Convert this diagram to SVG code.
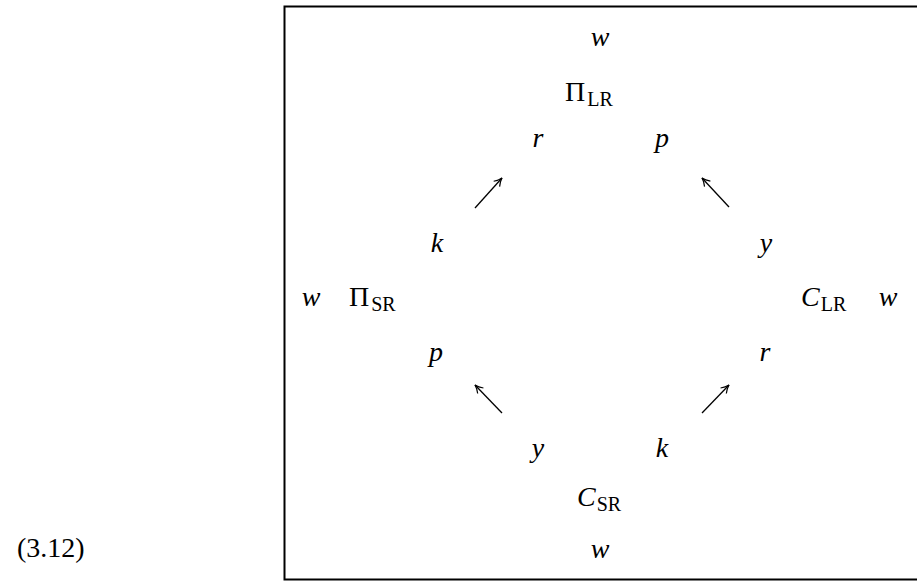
<svg xmlns="http://www.w3.org/2000/svg" width="917" height="587" viewBox="0 0 917 587">
<style>
text{font-family:"Liberation Serif","DejaVu Serif",serif;font-size:28px;fill:#000}
.v{font-style:italic}
.s{font-size:20px;font-style:normal}
.ar{stroke:#000;stroke-width:1.3;fill:none}
</style>
<defs>
<marker id="ah" viewBox="0 0 10 10" refX="9" refY="5" markerWidth="10" markerHeight="10" markerUnits="userSpaceOnUse" orient="auto">
<path d="M1,1 Q5,4 9,5 Q5,6 1,9" fill="none" stroke="#000" stroke-width="1.2"/>
</marker>
</defs>
<rect x="284.5" y="6.5" width="700" height="573" fill="none" stroke="#000" stroke-width="2"/>
<text x="17" y="557">(3.12)</text>
<g id="w-top"><text class="v" x="600" y="46" text-anchor="middle">w</text></g>
<g id="PiLR"><text x="565" y="101">Π<tspan class="s" dx="2" dy="5">LR</tspan></text></g>
<g id="r-top"><text class="v" x="538" y="147" text-anchor="middle">r</text></g>
<g id="p-top"><text class="v" x="662" y="147" text-anchor="middle">p</text></g>
<g id="k-left"><text class="v" x="437" y="252" text-anchor="middle">k</text></g>
<g id="y-right"><text class="v" x="766" y="252" text-anchor="middle">y</text></g>
<g id="w-left"><text class="v" x="311" y="306" text-anchor="middle">w</text></g>
<g id="PiSR"><text x="349" y="306">Π<tspan class="s" dx="2" dy="5">SR</tspan></text></g>
<g id="CLR"><text class="v" x="801" y="306">C<tspan class="s" dx="1" dy="5">LR</tspan></text></g>
<g id="w-right"><text class="v" x="888" y="306" text-anchor="middle">w</text></g>
<g id="p-left"><text class="v" x="436" y="361" text-anchor="middle">p</text></g>
<g id="r-right"><text class="v" x="765" y="361" text-anchor="middle">r</text></g>
<g id="y-bottom"><text class="v" x="538" y="457" text-anchor="middle">y</text></g>
<g id="k-bottom"><text class="v" x="662" y="457" text-anchor="middle">k</text></g>
<g id="CSR"><text class="v" x="577" y="506">C<tspan class="s" dx="1" dy="5">SR</tspan></text></g>
<g id="w-bottom"><text class="v" x="600" y="558" text-anchor="middle">w</text></g>
<g id="connectors">
<line class="ar" x1="475" y1="208" x2="502" y2="178" marker-end="url(#ah)"/>
<line class="ar" x1="729" y1="207" x2="702" y2="178" marker-end="url(#ah)"/>
<line class="ar" x1="502" y1="413" x2="475" y2="385" marker-end="url(#ah)"/>
<line class="ar" x1="702" y1="413" x2="729" y2="385" marker-end="url(#ah)"/>
</g>
</svg>
